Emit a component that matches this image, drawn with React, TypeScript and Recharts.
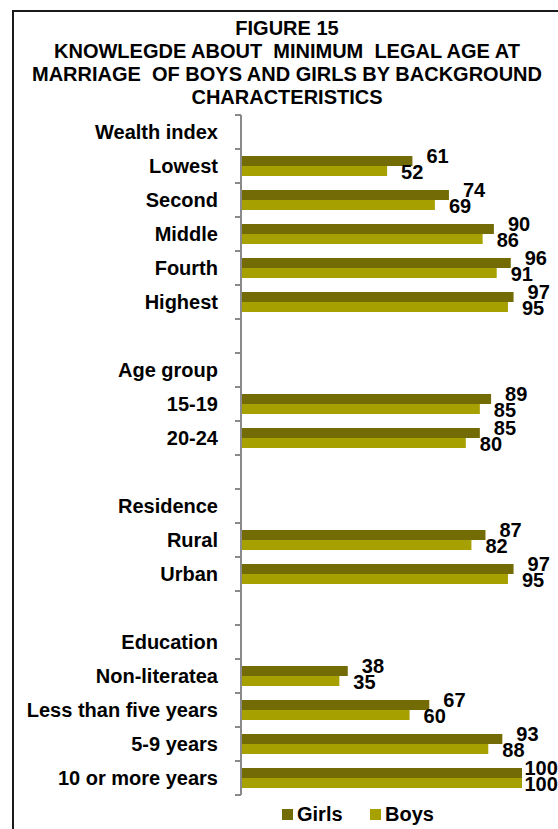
import React from 'react';
import { BarChart, Bar, XAxis, YAxis, LabelList } from 'recharts';

// rows of the chart, blank strings are the spacer rows between groups
const categories = [
  'Wealth index', 'Lowest', 'Second', 'Middle', 'Fourth', 'Highest', ' ',
  'Age group', '15-19', '20-24', '  ',
  'Residence', 'Rural', 'Urban', '   ',
  'Education', 'Non-literatea', 'Less than five years', '5-9 years', '10 or more years',
];
const girls = [null, 61, 74, 90, 96, 97, null, null, 89, 85, null, null, 87, 97, null, null, 38, 67, 93, 100];
const boys = [null, 52, 69, 86, 91, 95, null, null, 85, 80, null, null, 82, 95, null, null, 35, 60, 88, 100];

const titleLines = [
  'FIGURE 15',
  'KNOWLEGDE ABOUT  MINIMUM  LEGAL AGE AT',
  'MARRIAGE  OF BOYS AND GIRLS BY BACKGROUND',
  'CHARACTERISTICS',
];

const data = categories.map((name, i) => ({ name, girls: girls[i], boys: boys[i] }));

const GIRLS_COLOR = '#736c06';
const BOYS_COLOR = '#a6a000';
const FONT = '"Liberation Sans", Arial, sans-serif';

const W = 558;
const H = 829;
const MARGIN = { top: 115, right: 36, bottom: 34, left: 0 };
const BAND = (H - MARGIN.top - MARGIN.bottom) / categories.length;
const TICK_SIZE = 6;
const TICK_MARGIN = 17;

const CategoryTick = (props: any) => {
  const { x, y, payload, index } = props;
  const x1 = x + TICK_MARGIN;
  const x2 = x1 + TICK_SIZE;
  return (
    <g>
      <line x1={x1} x2={x2} y1={y - BAND / 2} y2={y - BAND / 2} stroke="#8a8a8a" strokeWidth={2} />
      {index === categories.length - 1 && (
        <line x1={x1} x2={x2} y1={y + BAND / 2} y2={y + BAND / 2} stroke="#8a8a8a" strokeWidth={2} />
      )}
      <text x={x} y={y} dy="0.36em" textAnchor="end" fontSize={20} fontWeight="bold" fill="#000" fontFamily={FONT}>
        {payload.value}
      </text>
    </g>
  );
};

// value labels sit right of the bar; pulled back in when they would run off the edge
const makeLabel = (shift: number) => (props: any) => {
  const { x, y, width, height, value } = props;
  if (value == null) return null;
  const textW = String(value).length * 11.2;
  let lx = x + width + 14;
  if (lx + textW > W) lx = W - textW;
  return (
    <text
      x={lx}
      y={y + height / 2 + shift}
      dy="0.36em"
      fontSize={20}
      fontWeight="bold"
      fill="#000"
      fontFamily={FONT}
    >
      {value}
    </text>
  );
};

const legendItems = [
  { label: 'Girls', color: GIRLS_COLOR, left: 282 },
  { label: 'Boys', color: BOYS_COLOR, left: 370 },
];

export default function App() {
  return (
    <div style={{ position: 'absolute', left: 0, top: 0, width: W, height: H, overflow: 'hidden', background: '#fff', fontFamily: FONT }}>
      <div style={{ position: 'absolute', left: 12, top: 10, width: 600, height: 900, border: '2px solid #1a1a1a' }} />
      <div style={{ position: 'absolute', left: 12, top: 17, width: 550, textAlign: 'center', fontSize: 20, fontWeight: 'bold', lineHeight: '23px', color: '#000', whiteSpace: 'pre' }}>
        {titleLines.map((t) => (
          <div key={t}>{t}</div>
        ))}
      </div>
      <div style={{ position: 'absolute', left: 0, top: 0 }}>
        <BarChart width={W} height={H} data={data} layout="vertical" margin={MARGIN} barSize={10} barGap={0}>
          <XAxis type="number" domain={[0, 100]} hide />
          <YAxis
            type="category"
            dataKey="name"
            width={241}
            axisLine={{ stroke: '#8a8a8a', strokeWidth: 2 }}
            tickLine={false}
            tickSize={TICK_SIZE}
            tickMargin={TICK_MARGIN}
            interval={0}
            tick={<CategoryTick />}
          />
          <Bar dataKey="girls" fill={GIRLS_COLOR} isAnimationActive={false}>
            <LabelList dataKey="girls" content={makeLabel(-5)} />
          </Bar>
          <Bar dataKey="boys" fill={BOYS_COLOR} isAnimationActive={false}>
            <LabelList dataKey="boys" content={makeLabel(1)} />
          </Bar>
        </BarChart>
      </div>
      {legendItems.map((it) => (
        <div key={it.label} style={{ position: 'absolute', left: it.left, top: 803, height: 23, display: 'flex', alignItems: 'center' }}>
          <span style={{ display: 'inline-block', width: 11, height: 11, background: it.color, marginRight: 4 }} />
          <span style={{ fontSize: 20, fontWeight: 'bold', color: '#000' }}>{it.label}</span>
        </div>
      ))}
    </div>
  );
}
